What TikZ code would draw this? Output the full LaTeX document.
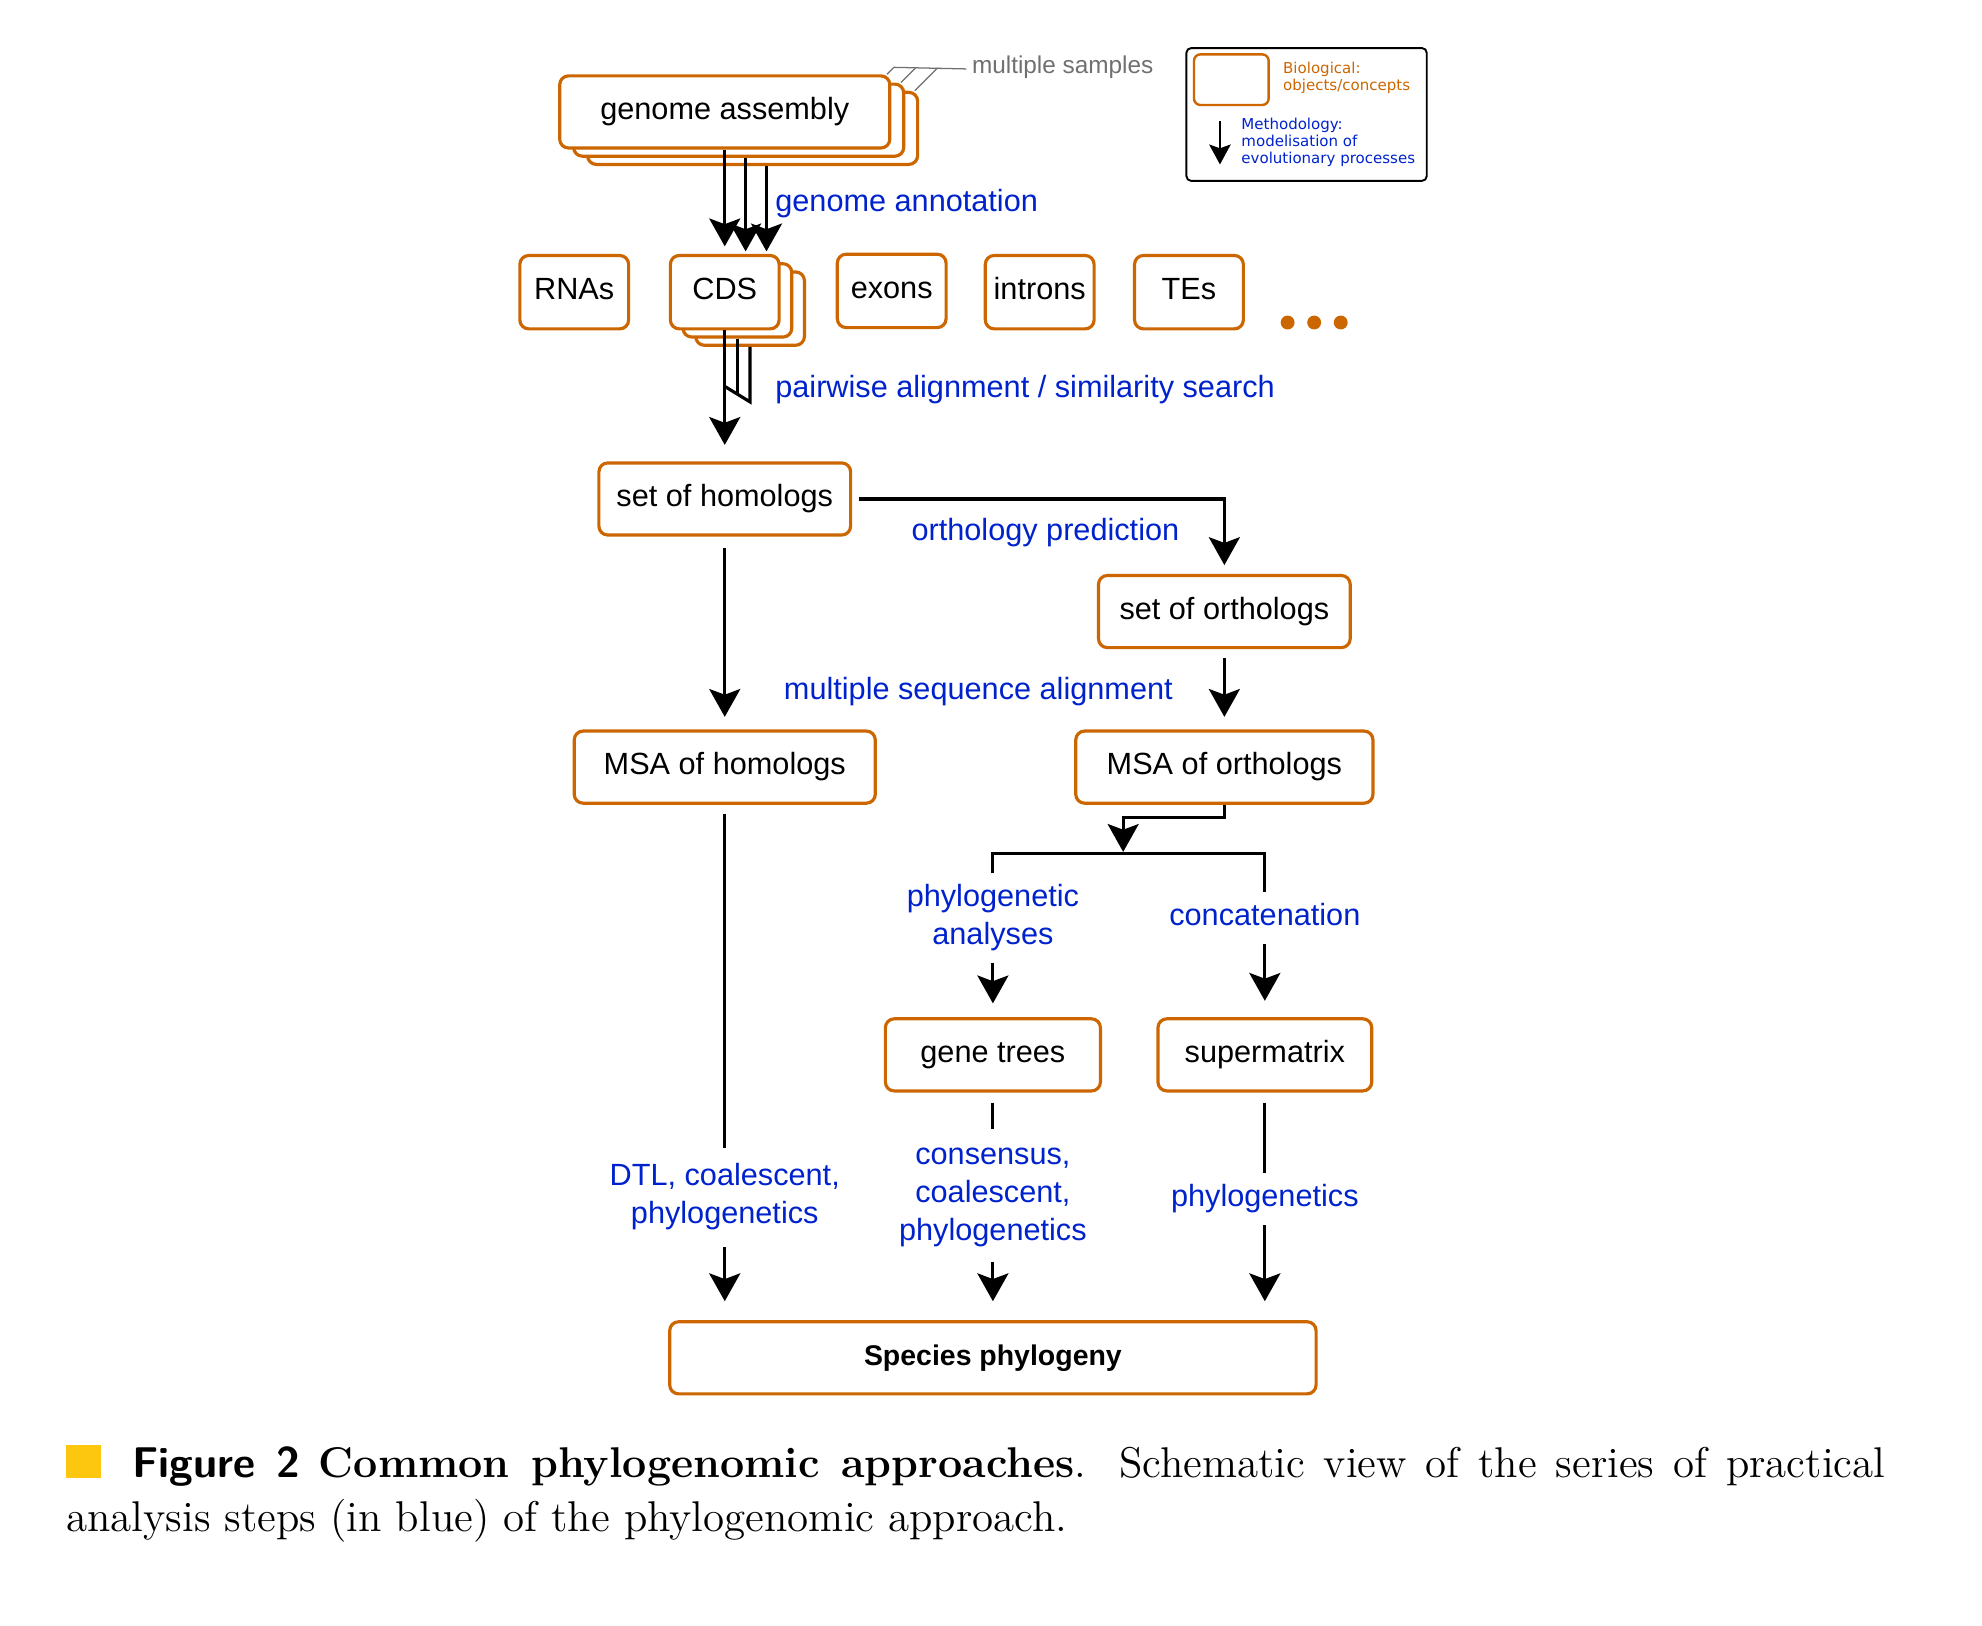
\documentclass[tikz,border=0pt]{standalone}
\usepackage{fontspec}
\newfontfamily\diafont{Liberation Sans}
\newfontfamily\legfont{DejaVu Sans}
\usetikzlibrary{arrows.meta,calc}

\definecolor{bioorange}{RGB}{204,102,0}
\definecolor{methblue}{RGB}{0,34,204}
\definecolor{samplegray}{RGB}{112,112,112}
\definecolor{figyellow}{RGB}{253,199,16}

\tikzset{
  bio/.style={draw=bioorange, line width=1pt, rounded corners=2.8pt, fill=white,
    minimum height=22.8pt, inner sep=0pt, text height=8.4pt, text depth=3.6pt,
    font=\diafont\fontsize{9.7}{12}\selectfont},
  feat/.style={bio, minimum width=34.4pt, minimum height=23.2pt},
  meth/.style={text=methblue, align=center, inner xsep=1pt, inner ysep=2pt,
    font=\diafont\fontsize{9.7}{12}\selectfont},
  flow/.style={line width=1pt},
  arr/.style={flow, -{Stealth[length=8.8pt, width=9.8pt, inset=1.8pt]}},
  lead/.style={draw=samplegray, line width=0.4pt},
}

\begin{document}
\begin{tikzpicture}[x=0.4pt, y=-0.4pt]
  \useasboundingbox (0,0) rectangle (1567,1285);

  % Genome assemblies (several samples)
  \node[bio, minimum width=104.4pt] (ga3) at (595,101.5) {};
  \node[bio, minimum width=104.4pt] (ga2) at (584,95) {};
  \node[bio, minimum width=104.4pt] (ga1) at (573,88.5) {genome assembly};
  \node[anchor=west, inner sep=0pt, text=samplegray,
    font=\diafont\fontsize{7.7}{9}\selectfont] (samples) at (768,53) {multiple samples};
  \draw[lead] ($(ga1.north east)+(-3.5,0)$) -- ++(5.5,-5.5) -- ($(samples.west)+(-4,1.5)$);
  \draw[lead] ($(ga2.north east)+(-3.5,0)$) -- ++(11.5,-11.5);
  \draw[lead] ($(ga3.north east)+(-3.5,0)$) -- ++(18,-18);

  % Legend
  \node[draw, line width=0.6pt, rounded corners=1.5pt, minimum width=76pt,
    minimum height=42pt, inner sep=0pt] (legend) at (1033,90.5) {};
  \node[draw=bioorange, line width=0.75pt, rounded corners=2pt, minimum width=23.6pt,
    minimum height=16pt, inner sep=0pt] (legbio) at (973.5,63) {};
  \node[anchor=west, align=left, inner sep=0pt, text=bioorange,
    font=\legfont\fontsize{4.75}{5.3}\selectfont] (legbiotext) at (1014,61.5)
    {Biological:\\objects/concepts};
  \coordinate (legtop) at (964.5,96);
  \coordinate (legbot) at (964.5,130);
  \draw[line width=0.6pt, -{Stealth[length=6.3pt, width=6.8pt, inset=1.2pt]}] (legtop) -- (legbot);
  \node[anchor=west, align=left, inner sep=0pt, text=methblue,
    font=\legfont\fontsize{4.75}{5.4}\selectfont] (legmethtext) at (981,112.5)
    {Methodology:\\modelisation of\\evolutionary processes};

  % Annotated features
  \node[feat] (rnas) at (454,231) {RNAs};
  \node[feat] (cds3) at (593,244) {};
  \node[feat] (cds2) at (583,237.5) {};
  \node[feat] (cds1) at (573,231) {CDS};
  \node[feat] (exons) at (705,230) {exons};
  \node[feat] (introns) at (822,231) {introns};
  \node[feat] (tes) at (940,231) {TEs};
  \foreach \dx in {1018,1039,1060}
    \fill[bioorange] (\dx,255) circle (2.2pt);

  \draw[arr, shorten >=2.4pt] (ga1.south) -- (ga1.south |- cds1.north);
  \draw[arr, shorten >=0.8pt] ($(ga2.south)+(5.5,0)$) coordinate (g2) -- (g2 |- cds1.north);
  \draw[arr, shorten >=0.8pt] ($(ga3.south)+(11,0)$) coordinate (g3) -- (g3 |- cds1.north);
  \node[meth, anchor=west] (annot) at (610,161) {genome annotation};

  % Homologs and orthologs
  \node[bio, minimum width=79.6pt] (hom) at (573,394.5) {set of homologs};
  \node[bio, minimum width=79.6pt] (orth) at (968,483.5) {set of orthologs};
  \node[bio, minimum width=95.2pt] (msah) at (573,606.5) {MSA of homologs};
  \node[bio, minimum width=94pt] (msao) at (968,606.5) {MSA of orthologs};

  \coordinate (merge) at (573,305.5);
  \draw[flow] (cds3.south) -- ++(0,43.5) -- (merge);
  \draw[flow] (cds2.south) -- ++(0,44.5);
  \draw[arr, shorten >=5.2pt] (cds1.south) -- (hom.north);
  \node[meth, anchor=west] (pairwise) at (610,308) {pairwise alignment / similarity search};

  \draw[arr, shorten <=2pt, shorten >=2.8pt] (hom.east) -| (orth.north);
  \node[meth] (orthopred) at (826.5,421) {orthology prediction};
  \draw[arr, shorten <=3.6pt, shorten >=4pt] (hom.south) -- (msah.north);
  \draw[arr, shorten <=2.8pt, shorten >=4pt] (orth.south) -- (msao.north);
  \node[meth] (msa) at (773.5,547) {multiple sequence alignment};

  % Gene trees and supermatrix
  \coordinate (split) at (888,675);
  \draw[arr, shorten >=0.6pt] (msao.south) -- ++(0,10) -| (split);
  \node[meth] (phylan) at (785,726) {\strut phylogenetic\\\strut analyses};
  \node[meth] (concat) at (1000,725.5) {\strut concatenation};
  \draw[flow] (phylan.north) |- (split) -| (concat.north);

  \node[bio, minimum width=68pt] (genetrees) at (785,834) {gene trees};
  \node[bio, minimum width=67.6pt] (supermatrix) at (1000,834) {supermatrix};
  \draw[arr, shorten >=4.4pt] (phylan.south) -- (genetrees.north);
  \draw[arr, shorten >=5.2pt] (concat.south) -- (supermatrix.north);

  % Species phylogeny
  \node[bio, minimum width=204.4pt, font=\diafont\bfseries\fontsize{9}{12}\selectfont]
    (species) at (785,1073.5) {Species phylogeny};
  \node[meth, inner ysep=3.4pt] (dtl) at (573,946.5)
    {\strut DTL, coalescent,\\\strut phylogenetics};
  \node[meth, inner ysep=2.8pt] (consensus) at (785,945)
    {\strut consensus,\\\strut coalescent,\\\strut phylogenetics};
  \node[meth] (phylo) at (1000,948) {\strut phylogenetics};

  \draw[flow, shorten <=2.8pt] (msah.south) -- (dtl.north);
  \draw[arr, shorten >=6pt] (dtl.south) -- (dtl.south |- species.north);
  \draw[flow, shorten <=3.2pt] (genetrees.south) -- (consensus.north);
  \draw[arr, shorten >=6pt] (consensus.south) -- (species.north);
  \draw[flow, shorten <=3.2pt] (supermatrix.south) -- (phylo.north);
  \draw[arr, shorten >=6pt] (phylo.south) -- (phylo.south |- species.north);

  % Caption
  \node[anchor=north west, inner sep=0pt, text width=575.2pt, align=justify,
    font=\fontsize{13.6}{16.8}\selectfont] (caption) at (52,1142)
    {\noindent{\color{figyellow}\rule{10.8pt}{10.4pt}}\hspace{10pt}{\sffamily\bfseries Figure 2}
     \textbf{Common phylogenomic approaches}. Schematic view of the series of practical\linebreak
     analysis steps (in blue) of the phylogenomic approach.};
\end{tikzpicture}
\end{document}
